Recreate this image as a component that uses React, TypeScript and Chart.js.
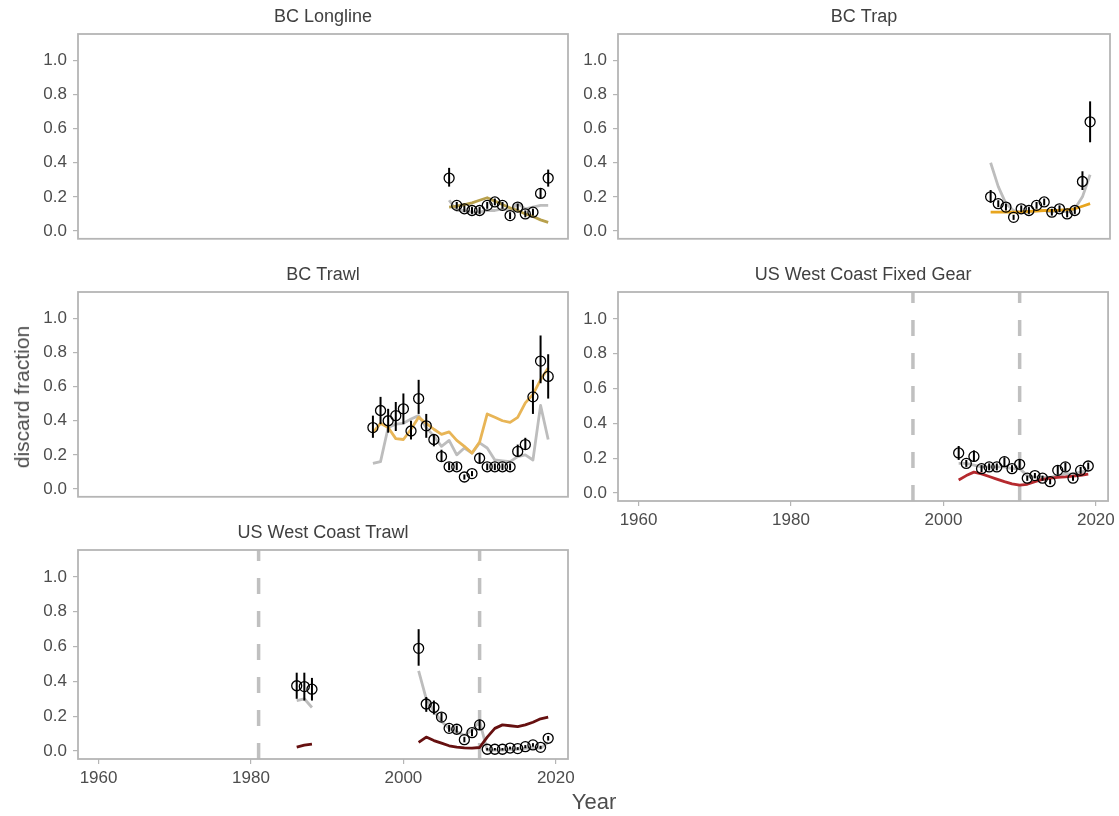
import React, { useEffect, useRef } from 'react';
import { Chart, registerables } from 'chart.js';

Chart.register(...registerables);

const FONT = '"Liberation Sans", Arial, Helvetica, sans-serif';
const TEXT = '#4d4d4d';
const FRAME = '#b5b5b5';
const ALT_GREY = '#bdbdbd';

// shared axes
const X_TICKS = [1960, 1980, 2000, 2020];
const Y_TICKS = [0, 0.2, 0.4, 0.6, 0.8, 1.0];
const X_MIN = 1957.3;
const X_MAX = 2021.6;
const Y_MIN = -0.046;
const Y_MAX = 1.155;

// BC Longline
const longlineYears = [2006, 2007, 2008, 2009, 2010, 2011, 2012, 2013, 2014, 2015, 2016, 2017, 2018, 2019];
const longlineObs = [0.31, 0.15, 0.13, 0.12, 0.12, 0.15, 0.17, 0.15, 0.09, 0.14, 0.10, 0.11, 0.22, 0.31];
const longlineLo = [0.26, 0.13, 0.11, 0.10, 0.10, 0.13, 0.15, 0.13, 0.07, 0.12, 0.08, 0.09, 0.19, 0.26];
const longlineHi = [0.37, 0.17, 0.15, 0.14, 0.14, 0.17, 0.19, 0.17, 0.11, 0.16, 0.12, 0.13, 0.25, 0.36];
const longlineFit = [0.14, 0.145, 0.155, 0.165, 0.18, 0.195, 0.175, 0.155, 0.135, 0.12, 0.10, 0.085, 0.065, 0.05];
const longlineAlt = [0.18, 0.12, 0.12, 0.11, 0.11, 0.12, 0.12, 0.13, 0.12, 0.16, 0.13, 0.14, 0.15, 0.15];

// BC Trap
const trapYears = [2006, 2007, 2008, 2009, 2010, 2011, 2012, 2013, 2014, 2015, 2016, 2017, 2018, 2019];
const trapObs = [0.20, 0.16, 0.14, 0.08, 0.13, 0.12, 0.15, 0.17, 0.11, 0.13, 0.10, 0.12, 0.29, 0.64];
const trapLo = [0.165, 0.14, 0.12, 0.065, 0.11, 0.10, 0.13, 0.15, 0.09, 0.11, 0.08, 0.10, 0.24, 0.52];
const trapHi = [0.24, 0.18, 0.16, 0.095, 0.15, 0.14, 0.17, 0.19, 0.13, 0.15, 0.12, 0.14, 0.35, 0.76];
const trapFit = [0.11, 0.11, 0.11, 0.11, 0.112, 0.115, 0.117, 0.12, 0.12, 0.122, 0.125, 0.13, 0.145, 0.16];
const trapAlt = [0.40, 0.26, 0.16, 0.12, 0.11, 0.11, 0.12, 0.12, 0.11, 0.12, 0.11, 0.13, 0.20, 0.33];

// BC Trawl
const bcTrawlYears = [1996, 1997, 1998, 1999, 2000, 2001, 2002, 2003, 2004, 2005, 2006, 2007, 2008, 2009, 2010, 2011, 2012, 2013, 2014, 2015, 2016, 2017, 2018, 2019];
const bcTrawlObs = [0.36, 0.46, 0.40, 0.43, 0.47, 0.34, 0.53, 0.37, 0.29, 0.19, 0.13, 0.13, 0.07, 0.09, 0.18, 0.13, 0.13, 0.13, 0.13, 0.22, 0.26, 0.54, 0.75, 0.66];
const bcTrawlLo = [0.30, 0.38, 0.33, 0.34, 0.38, 0.29, 0.44, 0.30, 0.25, 0.16, 0.11, 0.11, 0.055, 0.075, 0.15, 0.11, 0.11, 0.11, 0.11, 0.19, 0.23, 0.44, 0.62, 0.53];
const bcTrawlHi = [0.43, 0.54, 0.47, 0.51, 0.56, 0.40, 0.64, 0.44, 0.32, 0.23, 0.155, 0.155, 0.085, 0.105, 0.21, 0.15, 0.15, 0.15, 0.15, 0.26, 0.30, 0.64, 0.90, 0.79];
const bcTrawlFit = [0.33, 0.385, 0.36, 0.295, 0.29, 0.35, 0.42, 0.385, 0.35, 0.32, 0.335, 0.285, 0.25, 0.21, 0.275, 0.44, 0.42, 0.40, 0.39, 0.42, 0.505, 0.555, 0.64, 0.71];
const bcTrawlAlt = [0.15, 0.16, 0.36, 0.38, 0.385, 0.41, 0.43, 0.36, 0.31, 0.25, 0.285, 0.20, 0.24, 0.21, 0.27, 0.24, 0.17, 0.165, 0.16, 0.19, 0.20, 0.17, 0.49, 0.29];

// US West Coast Fixed Gear
const fixedYears = [2002, 2003, 2004, 2005, 2006, 2007, 2008, 2009, 2010, 2011, 2012, 2013, 2014, 2015, 2016, 2017, 2018, 2019];
const fixedObs = [0.23, 0.17, 0.21, 0.14, 0.15, 0.15, 0.18, 0.14, 0.165, 0.085, 0.10, 0.085, 0.065, 0.13, 0.15, 0.085, 0.13, 0.155];
const fixedLo = [0.19, 0.15, 0.18, 0.12, 0.13, 0.13, 0.155, 0.12, 0.14, 0.07, 0.085, 0.07, 0.05, 0.105, 0.125, 0.07, 0.11, 0.135];
const fixedHi = [0.27, 0.19, 0.245, 0.16, 0.17, 0.17, 0.205, 0.16, 0.19, 0.10, 0.115, 0.10, 0.08, 0.155, 0.175, 0.10, 0.15, 0.175];
const fixedFit = [0.075, 0.10, 0.12, 0.11, 0.095, 0.08, 0.065, 0.052, 0.045, 0.05, 0.065, 0.078, 0.085, 0.09, 0.093, 0.097, 0.102, 0.108];
const fixedAlt = [0.17, 0.17, 0.16, 0.15, 0.15, 0.15, 0.15, 0.14, 0.14, 0.10, 0.09, 0.09, 0.09, 0.10, 0.11, 0.11, 0.12, 0.13];
const fixedBreaks = [1996, 2010];

// US West Coast Trawl
const usTrawlYears = [1986, 1987, 1988, 2002, 2003, 2004, 2005, 2006, 2007, 2008, 2009, 2010, 2011, 2012, 2013, 2014, 2015, 2016, 2017, 2018, 2019];
const usTrawlObs = [0.375, 0.37, 0.355, 0.59, 0.27, 0.25, 0.195, 0.13, 0.125, 0.065, 0.105, 0.15, 0.01, 0.01, 0.01, 0.017, 0.014, 0.025, 0.035, 0.021, 0.073];
const usTrawlLo = [0.30, 0.29, 0.29, 0.49, 0.225, 0.21, 0.17, 0.11, 0.105, 0.05, 0.085, 0.12, 0.003, 0.003, 0.003, 0.009, 0.006, 0.016, 0.025, 0.012, 0.06];
const usTrawlHi = [0.45, 0.45, 0.42, 0.70, 0.31, 0.29, 0.22, 0.15, 0.145, 0.08, 0.125, 0.18, 0.017, 0.017, 0.017, 0.025, 0.022, 0.034, 0.045, 0.03, 0.086];
const usTrawlFit = [0.022, 0.034, 0.04, 0.05, 0.08, 0.06, 0.045, 0.03, 0.022, 0.018, 0.016, 0.02, 0.08, 0.13, 0.15, 0.145, 0.14, 0.15, 0.165, 0.185, 0.195];
const usTrawlAlt = [0.29, 0.30, 0.25, 0.46, 0.30, 0.23, 0.17, 0.13, 0.11, 0.09, 0.12, 0.17, 0.005, 0.005, 0.005, 0.01, 0.01, 0.015, 0.02, 0.015, 0.05];
const usTrawlBreaks = [1981, 2010];

type PanelSpec = {
  title: string;
  years: number[];
  obs: number[];
  lo: number[];
  hi: number[];
  fit: number[];
  alt: number[];
  fitColor: string;
  breaks: number[];
  col: 0 | 1;
  row: 0 | 1 | 2;
  showX: boolean;
};

const panels: PanelSpec[] = [
  { title: 'BC Longline', years: longlineYears, obs: longlineObs, lo: longlineLo, hi: longlineHi, fit: longlineFit, alt: longlineAlt, fitColor: '#b8a04c', breaks: [], col: 0, row: 0, showX: false },
  { title: 'BC Trap', years: trapYears, obs: trapObs, lo: trapLo, hi: trapHi, fit: trapFit, alt: trapAlt, fitColor: '#e8a51e', breaks: [], col: 1, row: 0, showX: false },
  { title: 'BC Trawl', years: bcTrawlYears, obs: bcTrawlObs, lo: bcTrawlLo, hi: bcTrawlHi, fit: bcTrawlFit, alt: bcTrawlAlt, fitColor: '#e8b556', breaks: [], col: 0, row: 1, showX: false },
  { title: 'US West Coast Fixed Gear', years: fixedYears, obs: fixedObs, lo: fixedLo, hi: fixedHi, fit: fixedFit, alt: fixedAlt, fitColor: '#b5292e', breaks: fixedBreaks, col: 1, row: 1, showX: true },
  { title: 'US West Coast Trawl', years: usTrawlYears, obs: usTrawlObs, lo: usTrawlLo, hi: usTrawlHi, fit: usTrawlFit, alt: usTrawlAlt, fitColor: '#661010', breaks: usTrawlBreaks, col: 0, row: 2, showX: true },
];

// canvas geometry per column / row
const COLS = [
  { left: 0, width: 590, axisW: 78, padRight: 22 },
  { left: 570, width: 549, axisW: 48, padRight: 9 },
];
const ROW_PLOT_TOP = [34, 292, 550];
const PLOT_H = 209;
const STRIP_H = 34;
const X_AXIS_H = 32;

// break a series into separate runs where years are not consecutive
function toSeries(years: number[], vals: number[]) {
  const pts: { x: number; y: number | null }[] = [];
  years.forEach((yr, i) => {
    if (i > 0 && yr - years[i - 1] > 1) pts.push({ x: (yr + years[i - 1]) / 2, y: null });
    pts.push({ x: yr, y: vals[i] });
  });
  return pts;
}

function Panel({ spec }: { spec: PanelSpec }) {
  const ref = useRef<HTMLCanvasElement>(null);
  const col = COLS[spec.col];
  const top = ROW_PLOT_TOP[spec.row] - STRIP_H;
  const padBottom = spec.showX ? 4 : 12;
  const height = STRIP_H + PLOT_H + (spec.showX ? X_AXIS_H : 0) + padBottom;

  useEffect(() => {
    const decor = {
      id: 'panelDecor',
      beforeDatasetsDraw(chart: any) {
        const { ctx, chartArea: a, scales } = chart;
        const x = scales.x;
        ctx.save();
        ctx.beginPath();
        ctx.rect(a.left, a.top, a.right - a.left, a.bottom - a.top);
        ctx.clip();
        ctx.strokeStyle = '#c0c0c0';
        ctx.lineWidth = 3.5;
        ctx.setLineDash([16, 17]);
        for (const yr of spec.breaks) {
          const px = x.getPixelForValue(yr);
          ctx.beginPath();
          ctx.moveTo(px, a.bottom);
          ctx.lineTo(px, a.top);
          ctx.stroke();
        }
        ctx.restore();
      },
      afterDatasetsDraw(chart: any) {
        const { ctx, chartArea: a, scales } = chart;
        const x = scales.x;
        const y = scales.y;
        ctx.save();
        // uncertainty intervals
        ctx.strokeStyle = '#000000';
        ctx.lineWidth = 2;
        spec.years.forEach((yr, i) => {
          const px = x.getPixelForValue(yr);
          ctx.beginPath();
          ctx.moveTo(px, y.getPixelForValue(spec.lo[i]));
          ctx.lineTo(px, y.getPixelForValue(spec.hi[i]));
          ctx.stroke();
        });
        // panel frame
        ctx.strokeStyle = FRAME;
        ctx.lineWidth = 1.8;
        ctx.strokeRect(a.left, a.top, a.right - a.left, a.bottom - a.top);
        // strip title
        ctx.fillStyle = '#404040';
        ctx.font = `18px ${FONT}`;
        ctx.textAlign = 'center';
        ctx.textBaseline = 'middle';
        ctx.fillText(spec.title, (a.left + a.right) / 2, a.top - 17);
        ctx.restore();
      },
    };

    const tickGrid = {
      display: true,
      drawOnChartArea: false,
      drawTicks: true,
      tickLength: 5,
      color: FRAME,
      lineWidth: 1.2,
    };

    const chart = new Chart(ref.current as HTMLCanvasElement, {
      type: 'scatter',
      data: {
        datasets: [
          {
            data: toSeries(spec.years, spec.obs),
            pointRadius: 5,
            pointBorderWidth: 1.3,
            pointBorderColor: '#000000',
            pointBackgroundColor: 'rgba(0,0,0,0)',
            showLine: false,
            order: 0,
          },
          {
            data: toSeries(spec.years, spec.fit),
            showLine: true,
            borderColor: spec.fitColor,
            borderWidth: 2.8,
            pointRadius: 0,
            spanGaps: false,
            borderJoinStyle: 'round',
            order: 1,
          },
          {
            data: toSeries(spec.years, spec.alt),
            showLine: true,
            borderColor: ALT_GREY,
            borderWidth: 2.8,
            pointRadius: 0,
            spanGaps: false,
            borderJoinStyle: 'round',
            order: 2,
          },
        ] as any,
      },
      options: {
        animation: false,
        responsive: false,
        devicePixelRatio: 1,
        events: [],
        layout: {
          padding: { left: 0, right: col.padRight, top: STRIP_H, bottom: padBottom },
        },
        plugins: {
          legend: { display: false },
          tooltip: { enabled: false },
          title: { display: false },
        },
        scales: {
          x: {
            type: 'linear',
            min: X_MIN,
            max: X_MAX,
            display: spec.showX,
            afterBuildTicks: (s: any) => {
              s.ticks = X_TICKS.map((v) => ({ value: v }));
            },
            afterFit: (s: any) => {
              if (spec.showX) s.height = X_AXIS_H;
            },
            grid: tickGrid,
            border: { display: false },
            ticks: {
              color: TEXT,
              font: { family: FONT, size: 17 },
              padding: 4,
              maxRotation: 0,
              callback: (v: any) => String(v),
            },
          },
          y: {
            type: 'linear',
            min: Y_MIN,
            max: Y_MAX,
            afterBuildTicks: (s: any) => {
              s.ticks = Y_TICKS.map((v) => ({ value: v }));
            },
            afterFit: (s: any) => {
              s.width = col.axisW;
            },
            grid: tickGrid,
            border: { display: false },
            ticks: {
              color: TEXT,
              font: { family: FONT, size: 17 },
              padding: 6,
              callback: (v: any) => Number(v).toFixed(1),
            },
          },
        },
      } as any,
      plugins: [decor],
    });
    return () => chart.destroy();
  }, [spec]);

  return (
    <canvas
      ref={ref}
      width={col.width}
      height={height}
      style={{ position: 'absolute', left: col.left, top, width: col.width, height }}
    />
  );
}

export default function App() {
  return (
    <div
      style={{
        position: 'absolute',
        left: 0,
        top: 0,
        width: 1119,
        height: 816,
        background: '#ffffff',
        overflow: 'hidden',
        fontFamily: FONT,
      }}
    >
      {panels.map((p) => (
        <Panel key={p.title} spec={p} />
      ))}
      <div
        style={{
          position: 'absolute',
          left: 22,
          top: 397,
          transform: 'translate(-50%, -50%) rotate(-90deg)',
          fontSize: 21,
          color: TEXT,
          whiteSpace: 'nowrap',
        }}
      >
        discard fraction
      </div>
      <div
        style={{
          position: 'absolute',
          left: 594,
          top: 802,
          transform: 'translate(-50%, -50%)',
          fontSize: 22,
          color: TEXT,
          whiteSpace: 'nowrap',
        }}
      >
        Year
      </div>
    </div>
  );
}
